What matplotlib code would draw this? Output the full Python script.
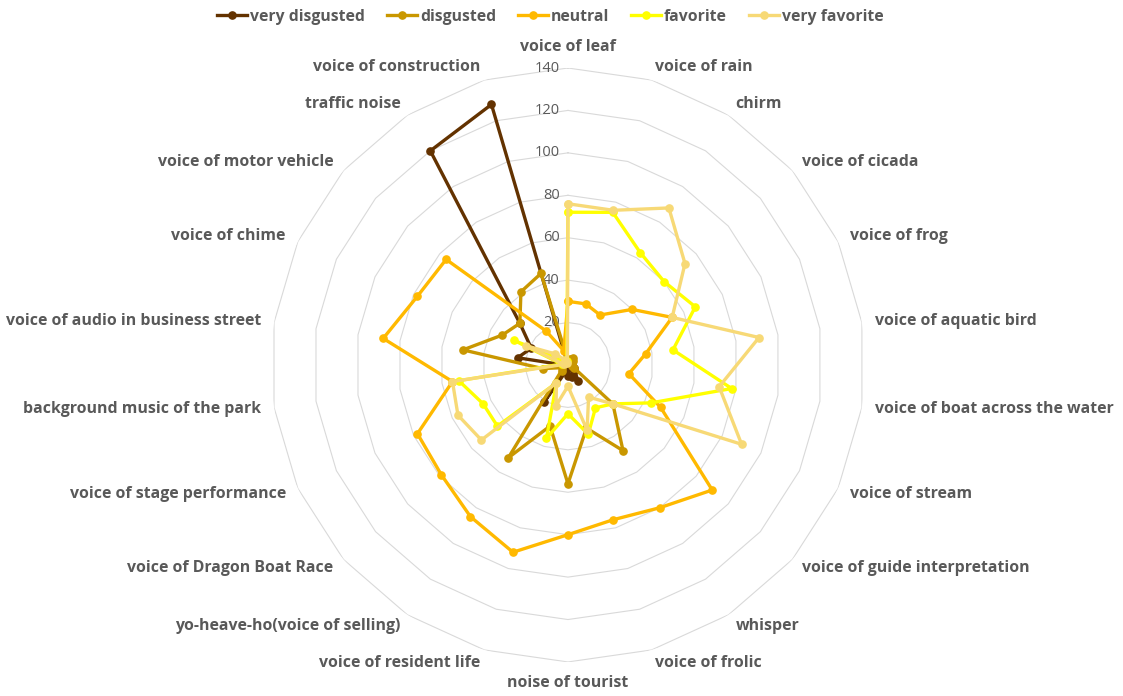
import numpy as np
import matplotlib
matplotlib.use("Agg")
import matplotlib.pyplot as plt
from matplotlib.lines import Line2D

plt.rcParams['font.family'] = ['Open Sans', 'DejaVu Sans']

# categories, clockwise from the top
categories = ["voice of leaf", "voice of rain", "chirm", "voice of cicada", "voice of frog",
              "voice of aquatic bird", "voice of boat across the water", "voice of stream",
              "voice of guide interpretation", "whisper", "voice of frolic", "noise of tourist",
              "voice of resident life", "yo-heave-ho(voice of selling)", "voice of Dragon Boat Race",
              "voice of stage performance", "background music of the park",
              "voice of audio in business street", "voice of chime", "voice of motor vehicle",
              "traffic noise", "voice of construction"]

very_disgusted = [0, 0, 0, 1, 1, 1, 2, 3, 4, 9, 6, 5, 3, 21, 1, 1, 1, 24, 19, 30, 120, 128]
disgusted = [2, 3, 4, 3, 2, 2, 2, 3, 28, 48, 31, 56, 30, 52, 4, 3, 12, 50, 34, 30, 41, 45]
neutral = [30, 30, 28, 40, 54, 37, 29, 48, 90, 80, 76, 80, 92, 85, 79, 78, 55, 88, 78, 76, 19, 7]
favorite = [72, 75, 63, 60, 66, 50, 78, 43, 28, 24, 34, 23, 36, 10, 44, 44, 52, 3, 28, 3, 3, 2]
very_favorite = [76, 76, 88, 73, 54, 91, 72, 90, 28, 18, 32, 10, 20, 10, 54, 57, 55, 2, 22, 8, 3, 1]

series_names = ["very disgusted", "disgusted", "neutral", "favorite", "very favorite"]
colors = ["#633200", "#C99700", "#FFB900", "#FFFF00", "#F7D976"]
ticks = [0, 20, 40, 60, 80, 100, 120, 140]

txt_color = "#595959"

n = len(categories)
angles = np.arange(n) * 2 * np.pi / n
closed = np.append(angles, angles[0])

fig = plt.figure(figsize=(11.23, 6.96), dpi=100)
ax = fig.add_axes([0.2413, 0.0489, 0.5289, 0.8534], projection='polar')
ax.set_theta_zero_location('N')
ax.set_theta_direction(-1)
ax.set_ylim(0, 140)
ax.grid(False)
ax.spines['polar'].set_visible(False)
ax.set_xticks([])
ax.set_yticks([])
ax.patch.set_alpha(0)

# polygon gridlines
for lvl in ticks[1:]:
    ax.plot(closed, [lvl] * (n + 1), color="#D9D9D9", lw=0.8, zorder=1)

# value labels along the top axis
for v in ticks:
    ax.annotate(str(v), xy=(0, v), xytext=(-6, 0), textcoords='offset points',
                ha='right', va='center', fontsize=10.5, color=txt_color, zorder=2)

data = [very_disgusted, disgusted, neutral, favorite, very_favorite]
for vals, name, c in zip(data, series_names, colors):
    v = np.append(vals, vals[0])
    ax.plot(closed, v, color=c, lw=2.4, marker='o', markersize=5.2, label=name, zorder=3)

# category labels
for a, lab in zip(angles, categories):
    s = np.sin(a)
    if abs(s) < 1e-6:
        ha = 'center'
        va = 'bottom' if np.cos(a) > 0 else 'top'
    else:
        ha = 'left' if s > 0 else 'right'
        va = 'center'
    ax.text(a, 146.2, lab, ha=ha, va=va, fontsize=11.4, fontweight='bold',
            color=txt_color, clip_on=False)

handles = [Line2D([0], [0], color=c, lw=2.4, marker='o', markersize=5.2) for c in colors]
fig.legend(handles, series_names, loc='upper center', bbox_to_anchor=(0.49, 1.008), ncol=5,
           frameon=False, handlelength=1.9, handletextpad=0.2, columnspacing=1.4,
           prop={'size': 11.3, 'weight': 'bold'}, labelcolor=txt_color)

fig.savefig("out.png", dpi=100)
